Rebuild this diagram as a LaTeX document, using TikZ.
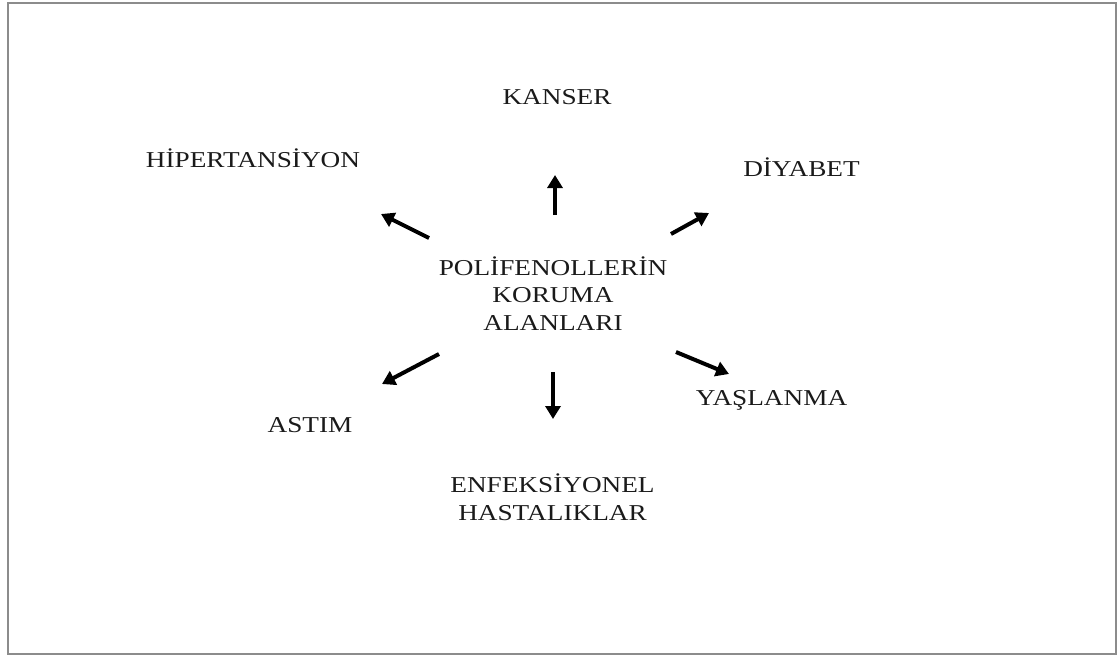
\documentclass[tikz,border=0pt]{standalone}
\usepackage{fontspec}
\setmainfont{Liberation Serif}[FakeStretch=1.2]
\usetikzlibrary{arrows.meta}
\definecolor{framegray}{HTML}{8C8C8C}
\definecolor{inkgray}{HTML}{1A1A1A}
\begin{document}
\begin{tikzpicture}[x=1pt,y=-1pt,
  lbl/.style={anchor=base,inner sep=0pt,align=center,text=inkgray,
    font=\fontsize{22.7}{27.3}\selectfont},
  arr/.style={line width=4pt,draw=black,-{Triangle[length=13pt,width=15pt]}}]
\useasboundingbox (0,0) rectangle (1118,657);
\draw[framegray,line width=2pt] (8,3) rectangle (1115.5,653.5);
% labels (base anchor = baseline of the last line)
\node[lbl] (center) at (553,330) {POLİFENOLLERİN\\KORUMA\\ALANLARI};
\node[lbl] (kanser) at (557,104) {KANSER};
\node[lbl] (hiper) at (253,167) {HİPERTANSİYON};
\node[lbl] (diyabet) at (801.5,176) {DİYABET};
\node[lbl] (yas) at (771.5,405) {YAŞLANMA};
\node[lbl] (astim) at (310,432) {ASTIM};
\node[lbl] (enf) at (552.5,520) {ENFEKSİYONEL\\HASTALIKLAR};
% arrow end points
\coordinate (uS) at (555,215);  \coordinate (uE) at (555,175);
\coordinate (ulS) at (429,238); \coordinate (ulE) at (381,214);
\coordinate (urS) at (671,234); \coordinate (urE) at (709,213);
\coordinate (llS) at (439,354); \coordinate (llE) at (382,384);
\coordinate (dS) at (553,372);  \coordinate (dE) at (553,419);
\coordinate (lrS) at (676,352); \coordinate (lrE) at (729,374);
\draw[arr] (uS) -- (uE);
\draw[arr] (ulS) -- (ulE);
\draw[arr] (urS) -- (urE);
\draw[arr] (llS) -- (llE);
\draw[arr] (dS) -- (dE);
\draw[arr] (lrS) -- (lrE);
\end{tikzpicture}
\end{document}
